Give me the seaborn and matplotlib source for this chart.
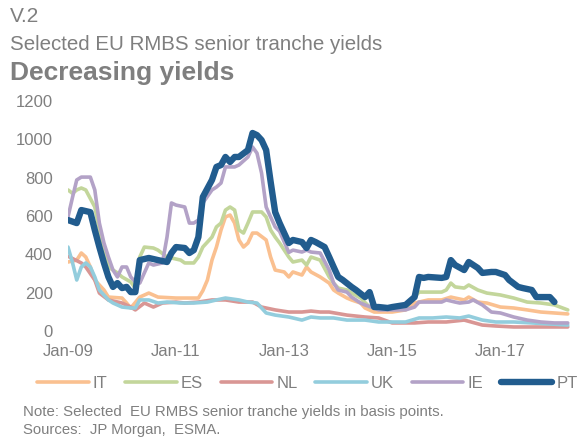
import numpy as np
import pandas as pd
import matplotlib
matplotlib.use("Agg")
import matplotlib.pyplot as plt
import matplotlib.dates as mdates
import seaborn as sns

# ---- data (months since Jan-2009, yield in bp) ----
IT_m = [0, 2, 3, 4, 5, 6, 8, 9, 12, 13, 14, 16, 18, 20, 24, 29, 30, 31, 32, 33, 34, 35, 36, 37, 38, 39, 40, 41, 42, 44, 45, 46, 48, 49, 50, 52, 53, 54, 56, 58, 59, 60, 62, 63, 65, 66, 68, 72, 75, 77, 78, 80, 83, 85, 86, 88, 89, 91, 93, 96, 99, 102, 105, 108, 111]
IT_v = [360, 370, 407, 386, 334, 266, 214, 177, 172, 146, 120, 177, 198, 177, 172, 172, 210, 266, 370, 438, 527, 595, 605, 563, 475, 438, 459, 511, 511, 475, 386, 318, 308, 282, 308, 292, 334, 308, 282, 250, 214, 198, 172, 162, 146, 120, 99, 99, 110, 146, 151, 162, 162, 177, 172, 162, 177, 151, 146, 125, 120, 110, 99, 94, 89]

ES_m = [0, 1, 2, 3, 4, 6, 7, 8, 9, 11, 12, 14, 15, 16, 17, 19, 20, 22, 23, 25, 26, 28, 29, 30, 32, 33, 34, 35, 36, 37, 38, 39, 40, 41, 43, 44, 45, 46, 47, 49, 50, 52, 53, 54, 56, 58, 59, 60, 62, 63, 65, 67, 69, 72, 75, 77, 78, 83, 84, 85, 86, 88, 89, 91, 93, 96, 99, 102, 105, 108, 111]
ES_v = [736, 718, 736, 746, 736, 647, 527, 438, 334, 303, 282, 256, 224, 386, 438, 433, 422, 386, 381, 370, 355, 355, 386, 438, 490, 543, 563, 631, 647, 631, 527, 511, 563, 621, 621, 595, 527, 490, 459, 386, 360, 370, 344, 386, 370, 282, 250, 224, 214, 198, 172, 125, 120, 120, 120, 177, 203, 203, 214, 250, 230, 224, 240, 214, 198, 188, 172, 151, 146, 136, 110]

NL_m = [0, 3, 4, 6, 7, 9, 12, 14, 15, 17, 19, 21, 24, 26, 29, 32, 35, 38, 41, 43, 46, 49, 52, 54, 56, 58, 62, 66, 69, 72, 77, 80, 84, 88, 92, 95, 99, 111]
NL_v = [390, 355, 334, 266, 198, 162, 146, 125, 110, 146, 125, 146, 151, 146, 151, 162, 162, 151, 151, 125, 110, 99, 99, 104, 99, 99, 83, 73, 68, 42, 42, 47, 47, 57, 31, 26, 21, 21]

UK_m = [0, 1, 2, 3, 4, 5, 6, 7, 9, 10, 12, 14, 15, 16, 18, 20, 22, 25, 28, 31, 33, 35, 38, 40, 42, 44, 46, 49, 52, 54, 56, 59, 62, 66, 69, 75, 78, 81, 84, 87, 89, 92, 95, 99, 103, 111]
UK_v = [438, 355, 266, 334, 355, 334, 282, 214, 162, 146, 125, 120, 120, 162, 162, 146, 151, 146, 146, 151, 162, 172, 162, 151, 146, 94, 83, 73, 57, 73, 68, 68, 57, 57, 47, 47, 68, 68, 73, 68, 78, 57, 47, 47, 42, 31]

IE_m = [0, 1, 2, 3, 5, 6, 7, 8, 9, 10, 11, 12, 13, 14, 15, 16, 18, 19, 21, 22, 23, 24, 26, 27, 28, 29, 30, 32, 33, 34, 35, 37, 38, 40, 41, 42, 43, 44, 45, 46, 47, 49, 50, 52, 53, 54, 56, 58, 59, 60, 62, 63, 65, 66, 68, 69, 72, 75, 77, 78, 80, 83, 84, 86, 87, 89, 90, 92, 94, 96, 99, 102, 105, 108, 111]
IE_v = [595, 699, 788, 803, 803, 736, 563, 459, 386, 318, 282, 334, 334, 282, 256, 250, 355, 344, 355, 490, 668, 657, 647, 563, 563, 579, 668, 736, 751, 772, 856, 856, 866, 908, 960, 928, 824, 647, 595, 543, 520, 410, 422, 412, 422, 412, 407, 318, 250, 214, 203, 177, 146, 136, 120, 110, 110, 110, 125, 151, 151, 151, 162, 151, 146, 151, 162, 136, 99, 94, 73, 57, 47, 42, 42]

PT_m = [0, 2, 3, 5, 6, 7, 8, 9, 10, 11, 12, 13, 14, 15, 16, 18, 20, 22, 23, 24, 26, 27, 28, 29, 30, 32, 33, 34, 35, 36, 37, 38, 40, 41, 42, 43, 44, 45, 46, 47, 48, 49, 50, 52, 53, 54, 55, 57, 58, 59, 60, 61, 63, 64, 66, 67, 68, 69, 71, 72, 75, 77, 78, 79, 80, 83, 84, 85, 86, 88, 89, 91, 92, 94, 95, 97, 98, 100, 101, 103, 104, 106, 107, 108]
PT_v = [579, 563, 631, 620, 527, 438, 355, 282, 230, 250, 224, 230, 203, 203, 370, 381, 370, 360, 407, 438, 433, 407, 422, 490, 699, 788, 856, 866, 908, 882, 908, 908, 944, 1033, 1022, 996, 944, 780, 620, 563, 511, 459, 475, 464, 433, 475, 464, 438, 386, 334, 282, 266, 230, 214, 177, 203, 125, 125, 120, 125, 136, 177, 282, 277, 282, 277, 282, 370, 344, 318, 360, 329, 303, 308, 308, 292, 266, 230, 224, 214, 177, 177, 177, 151]

series_names = ["IT", "ES", "NL", "UK", "IE", "PT"]
series_months = [IT_m, ES_m, NL_m, UK_m, IE_m, PT_m]
series_values = [IT_v, ES_v, NL_v, UK_v, IE_v, PT_v]
colors = ["#FAC090", "#C3D69B", "#D99694", "#93CDDD", "#B3A2C7", "#215C8E"]
widths = [2.6, 2.6, 2.6, 2.6, 2.6, 4.6]

start = pd.Timestamp("2009-01-01")
frames = []
for name, ms, vs in zip(series_names, series_months, series_values):
    dates = [start + pd.DateOffset(months=int(m)) for m in ms]
    frames.append(pd.DataFrame({"date": dates, "value": vs, "country": name}))
df = pd.concat(frames, ignore_index=True)

sns.set_theme(style="white")
plt.rcParams["font.family"] = ["Liberation Sans", "DejaVu Sans"]
grey = "#7F7F7F"

fig = plt.figure(figsize=(5.79, 4.37), dpi=100)
ax = fig.add_axes([68 / 579, 106 / 437, 507 / 579, 230 / 437])

for name, col, lw in zip(series_names, colors, widths):
    sub = df[df["country"] == name]
    sns.lineplot(data=sub, x="date", y="value", ax=ax, color=col, linewidth=lw,
                 label=name, solid_capstyle="round", solid_joinstyle="round")

ax.set_ylim(0, 1200)
ax.set_yticks(np.arange(0, 1201, 200))
ax.set_xlim(pd.Timestamp("2009-01-01"), pd.Timestamp("2018-05-20"))
ax.set_xticks([pd.Timestamp(f"{y}-01-01") for y in (2009, 2011, 2013, 2015, 2017)])
ax.xaxis.set_major_formatter(mdates.DateFormatter("%b-%y"))
ax.set_xlabel("")
ax.set_ylabel("")
for s in ax.spines.values():
    s.set_visible(False)
ax.grid(False)
ax.tick_params(axis="both", length=0, labelsize=12, colors=grey)
ax.tick_params(axis="y", pad=11)
ax.tick_params(axis="x", pad=9)

ax.get_legend().remove()
handles, labels = ax.get_legend_handles_labels()
leg = fig.legend(handles, labels, loc="center", bbox_to_anchor=(307.5 / 579, 1 - 383 / 437),
                 ncol=6, frameon=False, fontsize=12, handlelength=3.1,
                 handletextpad=0.25, columnspacing=1.05)
for t in leg.get_texts():
    t.set_color(grey)

fig.text(10 / 579, 1 - 16 / 437, "V.2", fontsize=15, color=grey, va="center", ha="left")
fig.text(10 / 579, 1 - 45 / 437, "Selected EU RMBS senior tranche yields", fontsize=14.8,
         color=grey, va="center", ha="left")
fig.text(10 / 579, 1 - 73 / 437, "Decreasing yields", fontsize=19, fontweight="bold",
         color=grey, va="center", ha="left")
fig.text(23 / 579, 1 - 412 / 437, "Note: Selected  EU RMBS senior tranche yields in basis points.",
         fontsize=10.8, color=grey, va="center", ha="left")
fig.text(23 / 579, 1 - 430 / 437, "Sources:  JP Morgan,  ESMA.",
         fontsize=10.7, color=grey, va="center", ha="left")

fig.savefig("out.png", dpi=100)
